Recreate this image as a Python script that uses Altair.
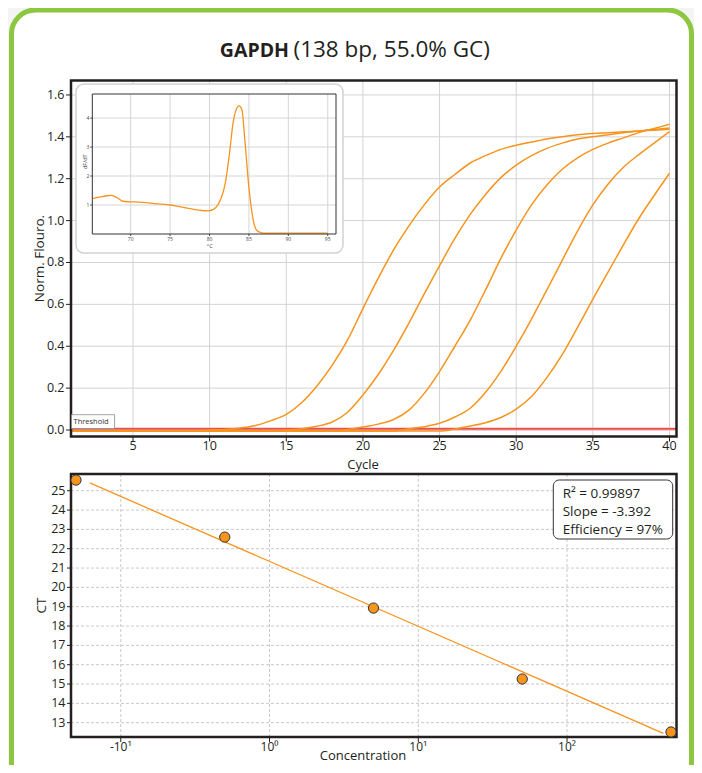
import altair as alt
import pandas as pd

# ---------------- data ----------------
title_bold = "GAPDH"
title_rest = "(138 bp, 55.0% GC)"

cycles = [1, 2, 3, 4, 5, 6, 7, 8, 9, 10, 11, 12, 13, 14, 15, 16, 17, 18, 19, 20,
          21, 22, 23, 24, 25, 26, 27, 28, 29, 30, 31, 32, 33, 34, 35, 36, 37, 38, 39, 40]
curve_1 = [-0.005, -0.005, -0.005, -0.005, -0.005, -0.005, -0.005, -0.005, -0.005, 0.0,
           0.003, 0.01, 0.022, 0.045, 0.075, 0.13, 0.21, 0.31, 0.43, 0.58,
           0.725, 0.86, 0.975, 1.075, 1.16, 1.22, 1.275, 1.31, 1.34, 1.36,
           1.375, 1.39, 1.40, 1.41, 1.416, 1.42, 1.424, 1.428, 1.432, 1.436]
curve_2 = [-0.005, -0.005, -0.005, -0.005, -0.005, -0.005, -0.005, -0.005, -0.005, -0.005,
           -0.005, -0.005, -0.005, -0.005, 0.0, 0.006, 0.018, 0.038, 0.085, 0.167,
           0.265, 0.38, 0.51, 0.65, 0.785, 0.915, 1.03, 1.125, 1.205, 1.265,
           1.31, 1.345, 1.37, 1.39, 1.40, 1.41, 1.42, 1.428, 1.435, 1.442]
curve_3 = [-0.005, -0.005, -0.005, -0.005, -0.005, -0.005, -0.005, -0.005, -0.005, -0.005,
           -0.005, -0.005, -0.005, -0.005, -0.005, -0.005, -0.005, -0.005, 0.003, 0.014,
           0.028, 0.05, 0.095, 0.175, 0.279, 0.40, 0.525, 0.669, 0.82, 0.955,
           1.075, 1.17, 1.245, 1.30, 1.34, 1.37, 1.395, 1.42, 1.44, 1.46]
curve_4 = [-0.005, -0.005, -0.005, -0.005, -0.005, -0.005, -0.005, -0.005, -0.005, -0.005,
           -0.005, -0.005, -0.005, -0.005, -0.005, -0.005, -0.005, -0.005, -0.005, -0.005,
           -0.005, -0.005, 0.006, 0.016, 0.032, 0.062, 0.104, 0.18, 0.28, 0.40,
           0.53, 0.669, 0.81, 0.95, 1.075, 1.175, 1.255, 1.315, 1.37, 1.425]
curve_5 = [-0.005, -0.005, -0.005, -0.005, -0.005, -0.005, -0.005, -0.005, -0.005, -0.005,
           -0.005, -0.005, -0.005, -0.005, -0.005, -0.005, -0.005, -0.005, -0.005, -0.005,
           -0.005, -0.005, -0.005, -0.005, -0.005, 0.005, 0.019, 0.035, 0.06, 0.10,
           0.16, 0.25, 0.36, 0.49, 0.625, 0.755, 0.885, 1.01, 1.12, 1.226]
sample_names = ["S1", "S2", "S3", "S4", "S5"]
top_x_ticks = [5, 10, 15, 20, 25, 30, 35, 40]
top_x_labels = ["5", "10", "15", "20", "25", "30", "35", "40"]
top_y_ticks = [0.0, 0.2, 0.4, 0.6, 0.8, 1.0, 1.2, 1.4, 1.6]
top_y_labels = ["0.0", "0.2", "0.4", "0.6", "0.8", "1.0", "1.2", "1.4", "1.6"]
top_x_domain = [0.956, 40.457]
top_y_domain = [-0.031, 1.669]
top_x_title = "Cycle"
top_y_title = "Norm. Flouro."
threshold_value = [0.005]
threshold_text = ["Threshold"]

melt_temp = [65.2, 66, 67, 67.6, 68.3, 69, 70, 71, 72, 73,
             74, 75, 76, 77, 78, 79, 79.8, 80.5, 81, 81.5,
             82, 82.5, 83, 83.4, 83.75, 84.1, 84.5, 85, 85.5, 86,
             86.5, 87, 90, 95]
melt_dfdt = [1.22, 1.27, 1.32, 1.33, 1.25, 1.13, 1.11, 1.10, 1.08, 1.05,
             1.03, 1.0, 0.95, 0.90, 0.85, 0.81, 0.80, 0.85, 0.98, 1.25,
             1.75, 2.7, 3.85, 4.3, 4.42, 4.3, 3.2, 1.6, 0.55, 0.12,
             0.05, 0.03, 0.03, 0.03]
inset_x_ticks = [70, 75, 80, 85, 90, 95]
inset_x_labels = ["70", "75", "80", "85", "90", "95"]
inset_y_ticks = [1, 2, 3, 4]
inset_y_labels = ["1", "2", "3", "4"]
inset_x_domain = [65.13, 96.05]
inset_y_domain = [0.0, 4.83]
inset_x_title = "°C"
inset_y_title = "dF/dT"

conc = [0.05, 0.5, 5, 50, 500]
ct = [25.55, 22.6, 18.93, 15.26, 12.52]
fit_conc = [0.062, 444]
fit_ct = [25.40, 12.45]
std_x_ticks = [0.1, 1, 10, 100]
std_x_labels = ["-10¹", "10⁰", "10¹", "10²"]
std_y_ticks = [13, 14, 15, 16, 17, 18, 19, 20, 21, 22, 23, 24, 25]
std_y_labels = ["13", "14", "15", "16", "17", "18", "19", "20", "21", "22", "23", "24", "25"]
std_x_domain = [0.04628, 544.5]
std_y_domain = [12.26, 25.864]
std_x_title = "Concentration"
std_y_title = "CT"
stats_lines = ["R² = 0.99897", "Slope = -3.392", "Efficiency = 97%"]

# ---------------- styling / layout ----------------
FONT = "Open Sans"
W, H = 686, 757
ORANGE = "#f7941d"
INK = "#231f20"
GREEN = "#8dc63f"

one = pd.DataFrame({"k": [0]})


def text_at(s, x, y, size=13.5, angle=0, weight="normal", align="center",
            baseline="alphabetic", color=INK):
    return alt.Chart(pd.DataFrame({"t": [s]})).mark_text(
        font=FONT, fontSize=size, fontWeight=weight, color=color, align=align,
        baseline=baseline, angle=angle).encode(text="t:N", x=alt.value(x), y=alt.value(y))


def x_guides(xs, ys, ticks, labels, ymin, tick=5, dy=15, size=12.5, color=INK):
    df = pd.DataFrame({"c": ticks, "lab": labels, "y0": ymin})
    base = alt.Chart(df)
    t = base.mark_rule(color=color, strokeWidth=1, y2Offset=tick).encode(
        x=alt.X("c:Q", scale=xs, axis=None), y=alt.Y("y0:Q", scale=ys, axis=None),
        y2=alt.Y2("y0"))
    lab = base.mark_text(font=FONT, fontSize=size, color=color, align="center",
                         baseline="alphabetic", dy=dy).encode(
        x=alt.X("c:Q", scale=xs, axis=None), y=alt.Y("y0:Q", scale=ys, axis=None),
        text="lab:N")
    return [t, lab]


def y_guides(xs, ys, ticks, labels, xmin, tick=5, dx=-7, size=12.5, color=INK):
    df = pd.DataFrame({"v": ticks, "lab": labels, "x0": xmin})
    base = alt.Chart(df)
    t = base.mark_rule(color=color, strokeWidth=1, x2Offset=-tick).encode(
        y=alt.Y("v:Q", scale=ys, axis=None), x=alt.X("x0:Q", scale=xs, axis=None),
        x2=alt.X2("x0"))
    lab = base.mark_text(font=FONT, fontSize=size, color=color, align="right",
                         baseline="middle", dx=dx).encode(
        y=alt.Y("v:Q", scale=ys, axis=None), x=alt.X("x0:Q", scale=xs, axis=None),
        text="lab:N")
    return [t, lab]


def grid(xs, ys, xticks, yticks, xdom, ydom, color, dash=None):
    kw = {"color": color, "strokeWidth": 1}
    if dash:
        kw["strokeDash"] = dash
    v = alt.Chart(pd.DataFrame({"c": xticks, "y0": ydom[0], "y1": ydom[1]})).mark_rule(**kw).encode(
        x=alt.X("c:Q", scale=xs, axis=None), y=alt.Y("y0:Q", scale=ys, axis=None), y2="y1")
    h = alt.Chart(pd.DataFrame({"v": yticks, "x0": xdom[0], "x1": xdom[1]})).mark_rule(**kw).encode(
        y=alt.Y("v:Q", scale=ys, axis=None), x=alt.X("x0:Q", scale=xs, axis=None), x2="x1")
    return [v, h]


def border(xs, ys, xdom, ydom, color, width):
    return alt.Chart(pd.DataFrame({"x0": [xdom[0]], "x1": [xdom[1]],
                                   "y0": [ydom[0]], "y1": [ydom[1]]})).mark_rect(
        fillOpacity=0, stroke=color, strokeWidth=width).encode(
        x=alt.X("x0:Q", scale=xs, axis=None), x2="x1",
        y=alt.Y("y0:Q", scale=ys, axis=None), y2="y1")


# ---------------- frame & title ----------------
frame = alt.Chart(one).mark_rect(cornerRadius=24, fill="white", stroke=GREEN,
                                 strokeWidth=5).encode(
    x=alt.value(3.5), x2=alt.value(683.5), y=alt.value(2), y2=alt.value(778))
t1 = text_at(title_bold, 281, 49, size=19.5, weight="bold", align="right")
t2 = text_at(title_rest, 285.5, 49, size=22.5, align="left")

# ---------------- amplification panel ----------------
tx = alt.Scale(domain=top_x_domain, range=[63, 668.5], nice=False, zero=False)
ty = alt.Scale(domain=top_y_domain, range=[428.5, 72.5], nice=False, zero=False)

rows = []
for name, vals in zip(sample_names, [curve_1, curve_2, curve_3, curve_4, curve_5]):
    for c, v in zip(cycles, vals):
        rows.append({"cycle": c, "value": v, "sample": name})
curves_df = pd.DataFrame(rows)

thr_df = pd.DataFrame({"v": threshold_value, "x0": top_x_domain[0], "x1": top_x_domain[1]})
thr_halo = alt.Chart(thr_df).mark_rule(color="#f6b8b8", strokeWidth=4, opacity=0.6).encode(
    y=alt.Y("v:Q", scale=ty, axis=None), x=alt.X("x0:Q", scale=tx, axis=None), x2="x1")
thr_line = alt.Chart(thr_df).mark_rule(color="#e2231a", strokeWidth=1.2).encode(
    y=alt.Y("v:Q", scale=ty, axis=None), x=alt.X("x0:Q", scale=tx, axis=None), x2="x1")

curves = alt.Chart(curves_df).mark_line(color=ORANGE, strokeWidth=1.5,
                                        interpolate="monotone").encode(
    x=alt.X("cycle:Q", scale=tx, axis=None),
    y=alt.Y("value:Q", scale=ty, axis=None),
    detail="sample:N")

thr_box = alt.Chart(one).mark_rect(fill="white", stroke="#8a8a8a", strokeWidth=0.8).encode(
    x=alt.value(63.5), x2=alt.value(106.6), y=alt.value(406.7), y2=alt.value(420.5))
thr_label = text_at(threshold_text[0], 65.5, 414, size=7.5, align="left",
                    baseline="middle", color="#333")

top_panel = alt.layer(
    *grid(tx, ty, top_x_ticks, top_y_ticks, top_x_domain, top_y_domain, "#d3d3d3"),
    thr_halo, thr_line, curves,
    border(tx, ty, top_x_domain, top_y_domain, INK, 2.5),
    *x_guides(tx, ty, top_x_ticks, top_x_labels, top_y_domain[0], tick=5, dy=13.5),
    *y_guides(tx, ty, top_y_ticks, top_y_labels, top_x_domain[0], tick=5, dx=-6.5),
    thr_box, thr_label)
top_titles = [text_at(top_x_title, 355, 460.5, size=13),
              text_at(top_y_title, 32, 250.5, angle=270, baseline="middle")]

# ---------------- melt-curve inset ----------------
ix = alt.Scale(domain=inset_x_domain, range=[84.3, 328], nice=False, zero=False)
iy = alt.Scale(domain=inset_y_domain, range=[226, 86], nice=False, zero=False)

inset_box = alt.Chart(one).mark_rect(cornerRadius=8, fill="white", stroke="#d2d2d2",
                                     strokeWidth=1.5).encode(
    x=alt.value(68), x2=alt.value(335), y=alt.value(76), y2=alt.value(245))
melt = alt.Chart(pd.DataFrame({"t": melt_temp, "d": melt_dfdt})).mark_line(
    color=ORANGE, strokeWidth=1.3, interpolate="monotone").encode(
    x=alt.X("t:Q", scale=ix, axis=None), y=alt.Y("d:Q", scale=iy, axis=None),
    order="t:Q")
inset_panel = alt.layer(
    *grid(ix, iy, inset_x_ticks, inset_y_ticks, inset_x_domain, inset_y_domain, "#d6d6d6"),
    melt,
    border(ix, iy, inset_x_domain, inset_y_domain, "#333", 1),
    *x_guides(ix, iy, inset_x_ticks, inset_x_labels, inset_y_domain[0], tick=2, dy=7,
              size=5, color="#444"),
    *y_guides(ix, iy, inset_y_ticks, inset_y_labels, inset_x_domain[0], tick=2, dx=-3,
              size=5, color="#444"))
inset_titles = [text_at(inset_x_title, 201.7, 238, size=5.5, baseline="middle", color="#444"),
                text_at(inset_y_title, 76.5, 153.7, size=5.5, angle=270, baseline="middle",
                        color="#444")]

# ---------------- standard curve panel ----------------
bx = alt.Scale(type="log", domain=std_x_domain, range=[63, 668.5], nice=False)
by = alt.Scale(domain=std_y_domain, range=[729, 466], nice=False, zero=False)

fit = alt.Chart(pd.DataFrame({"c": fit_conc, "ct": fit_ct})).mark_line(
    color=ORANGE, strokeWidth=1.3).encode(
    x=alt.X("c:Q", scale=bx, axis=None), y=alt.Y("ct:Q", scale=by, axis=None))
pts = alt.Chart(pd.DataFrame({"c": conc, "ct": ct})).mark_circle(
    size=105, color=ORANGE, opacity=1, stroke="#333", strokeWidth=1).encode(
    x=alt.X("c:Q", scale=bx, axis=None), y=alt.Y("ct:Q", scale=by, axis=None))

stats_box = alt.Chart(one).mark_rect(cornerRadius=6, fill="white", stroke="#333",
                                     strokeWidth=1).encode(
    x=alt.value(545.3), x2=alt.value(664.7), y=alt.value(472), y2=alt.value(531))
stats_text = alt.Chart(pd.DataFrame({"t": ["\n".join(stats_lines)]})).mark_text(
    font=FONT, fontSize=13.5, color=INK, align="left", baseline="alphabetic",
    lineBreak="\n", lineHeight=18.3).encode(
    text="t:N", x=alt.value(554.7), y=alt.value(489.7))

bottom_panel = alt.layer(
    *grid(bx, by, std_x_ticks, std_y_ticks, std_x_domain, std_y_domain, "#c9c9c9", [3, 2]),
    fit,
    border(bx, by, std_x_domain, std_y_domain, INK, 2.5),
    pts,
    *x_guides(bx, by, std_x_ticks, std_x_labels, std_y_domain[0], tick=5, dy=14, size=12),
    *y_guides(bx, by, std_y_ticks, std_y_labels, std_x_domain[0], tick=4, dx=-5.5),
    stats_box, stats_text)
bottom_titles = [text_at(std_x_title, 355, 752, size=13),
                 text_at(std_y_title, 33.7, 597.5, angle=270, baseline="middle")]

chart = alt.layer(frame, t1, t2, top_panel, *top_titles, inset_box, inset_panel,
                  *inset_titles, bottom_panel, *bottom_titles).resolve_scale(
    x="independent", y="independent").properties(
    width=W, height=H, autosize=alt.AutoSizeParams(type="none"), padding=0,
    background="#f3f4f4").configure_view(strokeWidth=0)

chart.save("out.html", embed_options={"renderer": "svg", "actions": False})
